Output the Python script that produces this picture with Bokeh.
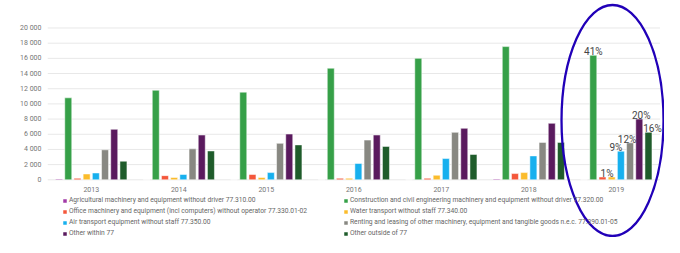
from bokeh.plotting import figure
from bokeh.models import Range1d, FixedTicker
from bokeh.embed import file_html
from bokeh.resources import INLINE
from bokeh.core.properties import value

# ---------------- data ----------------
years = ["2013", "2014", "2015", "2016", "2017", "2018", "2019"]

series_names = [
    "Agricultural machinery and equipment without driver 77.310.00",
    "Construction and civil engineering machinery and equipment without driver 77.320.00",
    "Office machinery and equipment (incl computers) without operator 77.330.01-02",
    "Water transport without staff 77.340.00",
    "Air transport equipment without staff 77.350.00",
    "Renting and leasing of other machinery, equipment and tangible goods n.e.c. 77.390.01-05",
    "Other within 77",
    "Other outside of 77",
]

agricultural = [100, 0, 0, 0, 0, 100, 0]
construction = [10800, 11800, 11550, 14700, 16000, 17550, 16400]
office = [200, 550, 700, 200, 200, 820, 370]
water = [770, 300, 300, 200, 600, 950, 370]
air = [900, 700, 950, 2150, 2800, 3150, 3770]
renting = [3950, 4080, 4800, 5230, 6250, 4930, 4870]
other_within = [6650, 5900, 6030, 5900, 6780, 7440, 8000]
other_outside = [2450, 3800, 4600, 4400, 3340, 4930, 6250]

pct_2019 = ["", "41%", "1%", "", "9%", "12%", "20%", "16%"]

y_ticks = [0, 2000, 4000, 6000, 8000, 10000, 12000, 14000, 16000, 18000, 20000]
y_tick_labels = ["0", "2 000", "4 000", "6 000", "8 000", "10 000", "12 000",
                 "14 000", "16 000", "18 000", "20 000"]

# ---------------- style ----------------
series_values = [agricultural, construction, office, water, air, renting,
                 other_within, other_outside]
colors = ["#a23aa7", "#36a048", "#f4573b", "#fbbc2c", "#17b0ee", "#888882",
          "#5a1a5e", "#1f5c2b"]
pct_x_offsets = [0, 0, 4.5, 0, -5, -3, 2, 4]
legend_order = [0, 2, 4, 6, 1, 3, 5, 7]
FONT = "Roboto"
step = 0.1051
bar_w = 0.08
n = len(years)

p = figure(width=664, height=237, output_backend="svg", toolbar_location=None,
           x_axis_location=None,
           x_range=Range1d(0, 7.051), y_range=Range1d(-7602, 23623),
           min_border_left=47, min_border_right=0, min_border_top=0,
           min_border_bottom=0)
p.outline_line_color = None
p.xgrid.visible = False
p.ygrid.visible = False
p.background_fill_color = "white"

yax = p.yaxis[0]
yax.ticker = FixedTicker(ticks=y_ticks)
yax.major_label_overrides = {t: l for t, l in zip(y_ticks, y_tick_labels)}
yax.axis_line_color = None
yax.major_tick_line_color = None
yax.minor_tick_line_color = None
yax.major_tick_in = 0
yax.major_tick_out = 0
yax.major_label_standoff = 6
yax.major_label_text_font = FONT
yax.major_label_text_font_size = "7px"
yax.major_label_text_color = "#757575"

# gridlines
p.segment(x0=[0] * len(y_ticks), x1=[n] * len(y_ticks), y0=y_ticks, y1=y_ticks,
          line_color="#e8e8e8", line_width=1)

# bars
bar_x = []
for k, (name, vals, col) in enumerate(zip(series_names, series_values, colors)):
    xs = [i + 0.5 + (k - 3.5) * step for i in range(n)]
    bar_x.append(xs)
    p.vbar(x=xs, top=vals, bottom=0, width=bar_w, fill_color=col,
           line_color="white", line_alpha=0.5, line_width=1, legend_label=name)

# year labels
p.text(x=[i + 0.5 for i in range(n)], y=[0] * n, text=years, y_offset=10,
       text_align="center", text_baseline="middle", text_font=value(FONT),
       text_font_size="7px", text_color="#757575")

# 2019 percentage labels
last = n - 1
p.text(x=[bar_x[k][last] for k in range(len(series_names))],
       y=[series_values[k][last] for k in range(len(series_names))],
       text=pct_2019, x_offset=pct_x_offsets, y_offset=-3.5,
       text_align="center", text_baseline="alphabetic", text_font=value(FONT),
       text_font_size="10px", text_color="#444444")

# highlight ellipse
p.ellipse(x=[n - 0.543], y=[7813], width=[102], height=[231],
          width_units="screen", height_units="screen",
          fill_alpha=0, line_color="#2100b8", line_width=2.3)

lg = p.legend[0]
lg.items = [lg.items[i] for i in legend_order]
lg.ncols = 2
lg.location = (15, 0)
lg.label_text_font = FONT
lg.label_text_font_size = "6.7px"
lg.label_text_color = "#666666"
lg.glyph_width = 5
lg.glyph_height = 5
lg.label_standoff = 2
lg.label_height = 7
lg.label_width = 271
lg.spacing = 3
lg.padding = 0
lg.margin = 0
lg.border_line_color = None
lg.background_fill_alpha = 0

open("out.html", "w").write(file_html(p, INLINE))
